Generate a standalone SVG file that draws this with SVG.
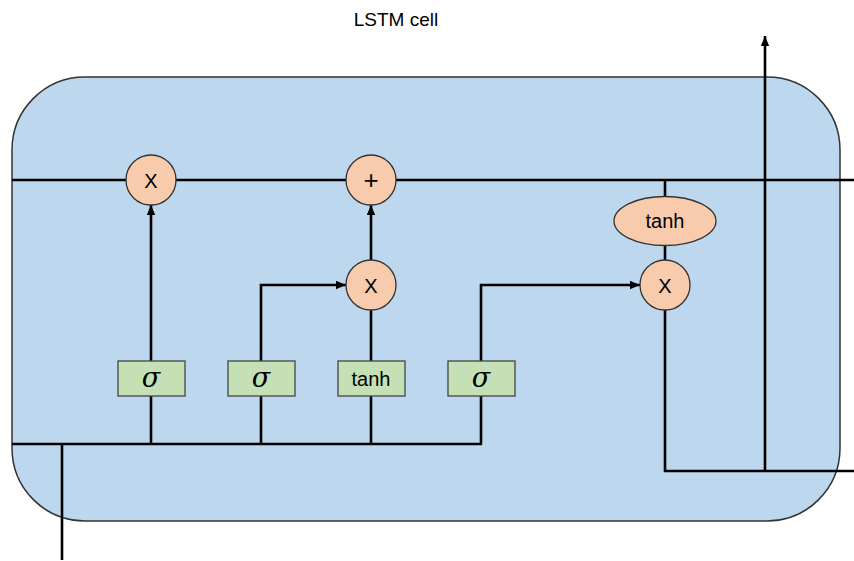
<svg xmlns="http://www.w3.org/2000/svg" width="854" height="561" viewBox="0 0 854 561">
<style>
.frame{fill:#BDD7EE;stroke:#333;stroke-width:1.5}
.wire{fill:none;stroke:#000;stroke-width:2.6}
.op{fill:#F8CBAD;stroke:#333;stroke-width:1.3}
.gate{fill:#C5E0B4;stroke:#444;stroke-width:1.3}
.t{font-family:"Liberation Sans",Arial,sans-serif;fill:#000;text-anchor:middle}
.sig{font-family:"DejaVu Serif","Liberation Serif",serif;font-style:italic;font-size:27px;fill:#000;text-anchor:middle}
</style>
<defs>
<marker id="ah" markerUnits="userSpaceOnUse" markerWidth="10" markerHeight="10" viewBox="0 0 10 10" refX="10" refY="5" orient="auto">
<path d="M0,0.8 L10,5 L0,9.2 Z" fill="#000"/>
</marker>
</defs>
<rect width="854" height="561" fill="#fff"/>
<text class="t" x="396" y="26" font-size="19">LSTM cell</text>
<rect id="cell" class="frame" x="12" y="77" width="828" height="444" rx="73" ry="73"/>
<g id="connectors">
<line class="wire" x1="12" y1="180" x2="854" y2="180"/>
<line class="wire" x1="12" y1="444" x2="482" y2="444"/>
<line class="wire" x1="62" y1="560" x2="62" y2="444"/>
<line class="wire" x1="151" y1="444" x2="151" y2="205" marker-end="url(#ah)"/>
<polyline class="wire" points="261,444 261,285 346,285" marker-end="url(#ah)"/>
<line class="wire" x1="371" y1="444" x2="371" y2="310"/>
<line class="wire" x1="371" y1="260" x2="371" y2="205" marker-end="url(#ah)"/>
<polyline class="wire" points="481,444 481,285 640,285" marker-end="url(#ah)"/>
<line class="wire" x1="665" y1="180" x2="665" y2="260"/>
<polyline class="wire" points="665,310 665,471 854,471"/>
<line class="wire" x1="765" y1="471" x2="765" y2="36" marker-end="url(#ah)"/>
</g>
<g id="forget-mult"><circle class="op" cx="151" cy="180" r="25"/><text class="t" x="151" y="187.5" font-size="20">X</text></g>
<g id="add"><circle class="op" cx="371" cy="180" r="25"/><text class="t" x="371" y="189" font-size="26">+</text></g>
<g id="input-mult"><circle class="op" cx="371" cy="285" r="25"/><text class="t" x="371" y="292.5" font-size="20">X</text></g>
<g id="output-tanh"><ellipse class="op" cx="665" cy="221" rx="51" ry="24.5"/><text class="t" x="665" y="228" font-size="20">tanh</text></g>
<g id="output-mult"><circle class="op" cx="665" cy="285" r="25"/><text class="t" x="665" y="292.5" font-size="20">X</text></g>
<g id="forget-gate"><rect class="gate" x="118" y="361" width="67" height="35"/><text class="sig" x="151" y="387">σ</text></g>
<g id="input-gate"><rect class="gate" x="228" y="361" width="67" height="35"/><text class="sig" x="261" y="387">σ</text></g>
<g id="candidate"><rect class="gate" x="338" y="361" width="67" height="35"/><text class="t" x="371" y="385.5" font-size="20">tanh</text></g>
<g id="output-gate"><rect class="gate" x="448" y="361" width="67" height="35"/><text class="sig" x="481" y="387">σ</text></g>
</svg>
